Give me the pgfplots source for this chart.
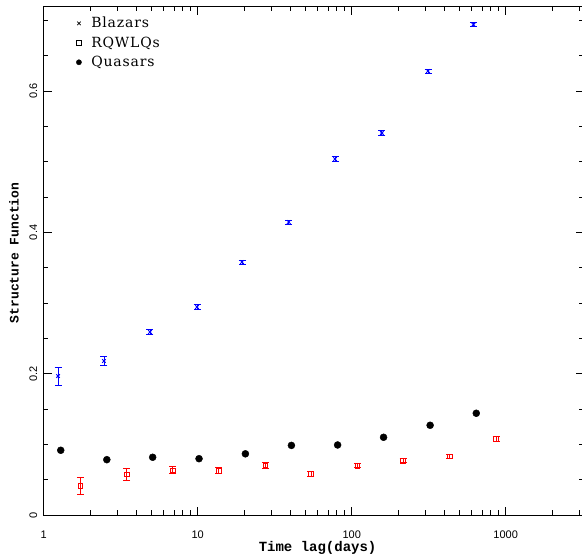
\documentclass[border=0pt]{standalone}
\usepackage{fontspec}
\setmainfont{Liberation Sans}
\newfontfamily\legfont[LetterSpace=6]{DejaVu Serif}
\newfontfamily\labfont{Liberation Mono}
\usepackage{pgfplots}
\pgfplotsset{compat=1.18}

\begin{document}
\begin{tikzpicture}
\begin{axis}[
  xmode=log,
  scale only axis,
  width=539.8pt, height=508.3pt,
  xmin=1, xmax=3200, ymin=0, ymax=0.7195,
  axis line style={line width=0.8pt},
  tick align=inside,
  xtick pos=both, ytick pos=both,
  major tick length=8pt, minor tick length=4.5pt,
  tick style={black, line width=0.6pt},
  xtick={1,10,100,1000},
  xticklabels={1,10,100,1000},
  minor xtick={2,3,4,5,6,7,8,9,20,30,40,50,60,70,80,90,200,300,400,500,600,700,800,900,2000,3000},
  ytick={0,0.2,0.4,0.6},
  yticklabels={0,0.2,0.4,0.6},
  minor ytick={0.05,0.1,0.15,0.25,0.3,0.35,0.45,0.5,0.55,0.65,0.7},
  tick label style={font=\fontsize{11}{13}\selectfont},
  xticklabel style={yshift=-12pt},
  yticklabel style={rotate=90, anchor=south, yshift=3pt},
  xlabel={\labfont\bfseries Time lag(days)},
  ylabel={\labfont\bfseries Structure Function},
  xlabel style={at={(rel axis cs:0.5,0)}, anchor=base, yshift=-37pt, xshift=4pt, font=\fontsize{14}{16}\selectfont},
  ylabel style={at={(rel axis cs:0,0.5)}, anchor=center, xshift=8pt, yshift=29.7pt, font=\fontsize{13}{15}\selectfont},
  legend style={at={(axis cs:1.6,0.709)}, anchor=north west, draw=none, fill=none,
    font=\legfont\fontsize{14}{16}\selectfont, row sep=3.5pt, inner sep=1pt},
  legend cell align=left,
  legend image code/.code={\path (-2pt,0pt) (10pt,0pt); \draw[#1] plot coordinates {(0pt,0pt)};},
]
\addlegendimage{only marks, mark=x, black, mark size=2.5pt, line width=0.7pt}
\addlegendentry{Blazars}
\addlegendimage{only marks, mark=square, black, mark size=2.3pt, line width=0.7pt}
\addlegendentry{RQWLQs}
\addlegendimage{only marks, mark=*, black, mark size=2.6pt}
\addlegendentry{Quasars}

% Blazars
\addplot[forget plot, blue, only marks, mark=x, mark size=2.5pt, line width=0.9pt,
  error bars/.cd, y dir=both, y explicit,
  error bar style={line width=0.8pt},
  error mark options={blue, rotate=90, mark size=3.5pt, line width=0.8pt}]
  coordinates {
  (1.24,0.1967) +- (0,0.0127)
  (2.46,0.218) +- (0,0.006)
  (4.9,0.259) +- (0,0.003)
  (9.9,0.2944) +- (0,0.003)
  (19.4,0.358) +- (0,0.003)
  (39,0.4147) +- (0,0.003)
  (78,0.5039) +- (0,0.003)
  (157,0.5407) +- (0,0.003)
  (313,0.6284) +- (0,0.003)
  (617,0.694) +- (0,0.003)
};

% RQWLQs
\addplot[forget plot, red, only marks, mark=square, mark size=2.3pt, line width=0.9pt,
  error bars/.cd, y dir=both, y explicit,
  error bar style={line width=0.8pt},
  error mark options={red, rotate=90, mark size=3.5pt, line width=0.8pt}]
  coordinates {
  (1.73,0.0415) +- (0,0.0123)
  (3.46,0.0576) +- (0,0.0083)
  (6.9,0.0633) +- (0,0.005)
  (13.7,0.0627) +- (0,0.004)
  (27.5,0.0703) +- (0,0.004)
  (54.4,0.058) +- (0,0.004)
  (109,0.0698) +- (0,0.003)
  (216,0.0769) +- (0,0.003)
  (433,0.0831) +- (0,0.003)
  (865,0.1076) +- (0,0.003)
};

% Quasars
\addplot[forget plot, black, only marks, mark=*, mark size=3.5pt]
  coordinates {
  (1.29,0.0916)
  (2.57,0.0783)
  (5.1,0.0817)
  (10.2,0.0797)
  (20.4,0.0866)
  (40.6,0.0985)
  (81,0.0991)
  (161,0.110)
  (323,0.127)
  (644,0.144)
};
\end{axis}
\pgfresetboundingbox
\path[use as bounding box] (-43.7pt,-41pt) rectangle (538.3pt,515pt);
\end{tikzpicture}
\end{document}
